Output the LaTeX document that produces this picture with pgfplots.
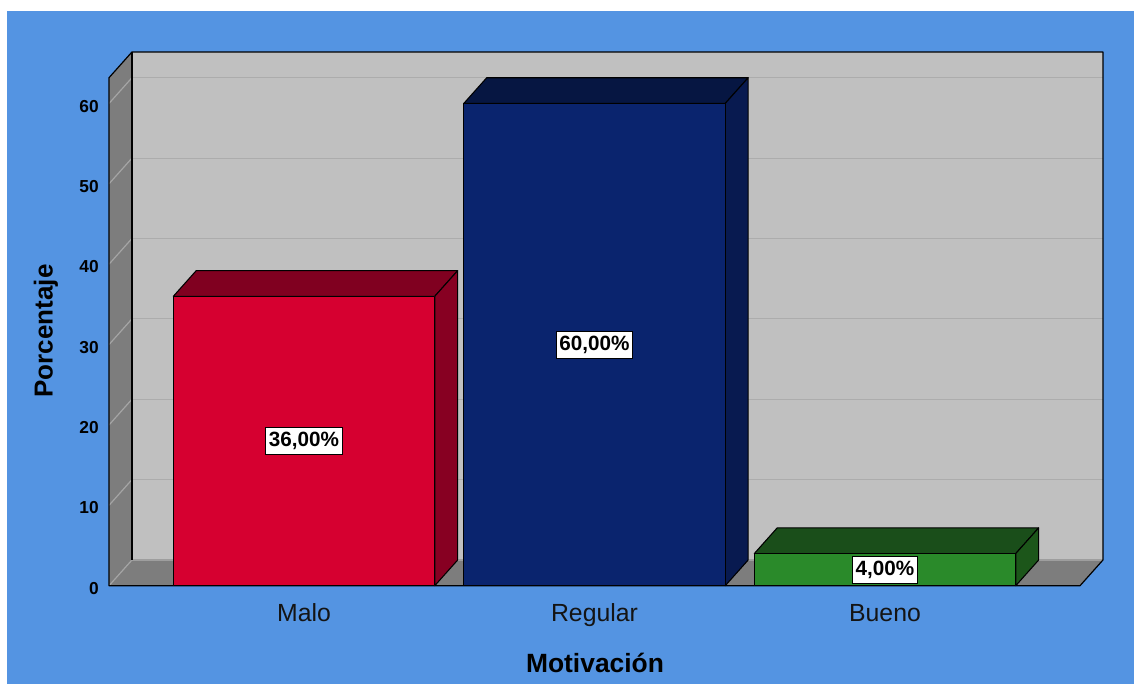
\documentclass[border=0pt]{standalone}
\usepackage{fontspec}
\setmainfont{Liberation Sans}
\usepackage{pgfplots}
\pgfplotsset{compat=1.18}

\definecolor{bgblue}{RGB}{84,148,226}
\definecolor{wallback}{RGB}{192,192,192}
\definecolor{wallside}{RGB}{125,125,125}
\definecolor{gridback}{RGB}{172,172,172}
\definecolor{gridside}{RGB}{165,165,165}
\definecolor{floorline}{RGB}{158,158,158}
\definecolor{redF}{RGB}{214,0,48}
\definecolor{redT}{RGB}{128,0,32}
\definecolor{redS}{RGB}{135,0,34}
\definecolor{blueF}{RGB}{10,36,110}
\definecolor{blueT}{RGB}{6,22,66}
\definecolor{blueS}{RGB}{8,26,80}
\definecolor{greenF}{RGB}{42,138,42}
\definecolor{greenT}{RGB}{26,78,26}
\definecolor{greenS}{RGB}{28,86,26}

\pgfplotsset{
  barface/.style={draw=black, line width=0.8pt, line join=round},
  valuelabel/.style={draw=none, mark=none, point meta=explicit,
    nodes near coords={\pgfmathprintnumber[assume math mode=true,fixed,fixed zerofill,precision=2,use comma]{\pgfplotspointmeta}\%},
    every node near coord/.append style={anchor=center, fill=white, draw=black,
      line width=0.7pt, inner xsep=2.5pt, inner ysep=3.5pt, text=black,
      font=\bfseries\fontsize{15.5}{18}\selectfont}},
}

% half bar width and depth offsets, in axis units
\newcommand\hw{0.45}
\newcommand\dx{0.079}
\newcommand\dy{3.2}

% one solid bar: centre, value, front / top / side colours
\newcommand\solidbar[5]{%
  \pgfmathsetmacro\xa{#1-\hw}%
  \pgfmathsetmacro\xb{#1+\hw}%
  \pgfmathsetmacro\xc{#1-\hw+\dx}%
  \pgfmathsetmacro\xd{#1+\hw+\dx}%
  \pgfmathsetmacro\yt{#2+\dy}%
  \pgfmathsetmacro\ym{#2/2}%
  \edef\drawfaces{%
    \noexpand\addplot[barface, fill=#4] coordinates {(\xa,#2) (\xb,#2) (\xd,\yt) (\xc,\yt)} -- cycle;
    \noexpand\addplot[barface, fill=#5] coordinates {(\xb,0) (\xd,\dy) (\xd,\yt) (\xb,#2)} -- cycle;
    \noexpand\addplot[barface, fill=#3] coordinates {(\xa,0) (\xb,0) (\xb,#2) (\xa,#2)} -- cycle;
    \noexpand\addplot[valuelabel] coordinates {(#1,\ym) [#2]};
  }%
  \drawfaces
}

\begin{document}
\begin{tikzpicture}
\useasboundingbox (0,0) rectangle (850.5pt,513pt);
\fill[white] (0,0) rectangle (850.5pt,513pt);
\fill[bgblue] (5.25pt,0) rectangle (850.5pt,504.75pt);
\begin{axis}[
  at={(81.75pt,73.7pt)}, anchor=south west,
  scale only axis, width=728.25pt, height=381pt,
  xmin=-0.6713, xmax=2.6713, ymin=0, ymax=63.2,
  clip=false,
  axis line style={draw=none},
  major tick length=0pt,
  xtick={0,1,2}, xticklabels={Malo,Regular,Bueno},
  ytick={0,10,20,30,40,50,60}, yticklabels={0,10,20,30,40,50,60},
  xticklabel style={anchor=base, inner sep=0pt, yshift=-26.5pt,
    text=black!92, font=\fontsize{18.6}{22}\selectfont},
  yticklabel style={anchor=east, inner sep=0pt, xshift=-7.5pt, yshift=-2pt,
    font=\bfseries\fontsize{13}{15}\selectfont},
]
% back wall, left wall and floor
\addplot[fill=wallback, draw=none] coordinates {(-0.5923,3.2) (2.7503,3.2) (2.7503,66.4) (-0.5923,66.4)} -- cycle;
\addplot[fill=wallside, draw=none] coordinates {(-0.6713,0) (-0.5923,3.2) (-0.5923,66.4) (-0.6713,63.2)} -- cycle;
\addplot[fill=wallside, draw=none] coordinates {(-0.6713,0) (2.6713,0) (2.7503,3.2) (-0.5923,3.2)} -- cycle;
\addplot[floorline, line width=1.2pt] coordinates {(-0.5923,3.2) (2.7503,3.2)};
% grid lines on the back wall
\addplot[gridback, line width=0.9pt] coordinates {(-0.5923,13.2) (2.7503,13.2)};
\addplot[gridback, line width=0.9pt] coordinates {(-0.5923,23.2) (2.7503,23.2)};
\addplot[gridback, line width=0.9pt] coordinates {(-0.5923,33.2) (2.7503,33.2)};
\addplot[gridback, line width=0.9pt] coordinates {(-0.5923,43.2) (2.7503,43.2)};
\addplot[gridback, line width=0.9pt] coordinates {(-0.5923,53.2) (2.7503,53.2)};
\addplot[gridback, line width=0.9pt] coordinates {(-0.5923,63.2) (2.7503,63.2)};
% grid lines on the left wall
\addplot[gridside, line width=0.9pt] coordinates {(-0.6713,0) (-0.5923,3.2)};
\addplot[gridside, line width=0.9pt] coordinates {(-0.6713,10) (-0.5923,13.2)};
\addplot[gridside, line width=0.9pt] coordinates {(-0.6713,20) (-0.5923,23.2)};
\addplot[gridside, line width=0.9pt] coordinates {(-0.6713,30) (-0.5923,33.2)};
\addplot[gridside, line width=0.9pt] coordinates {(-0.6713,40) (-0.5923,43.2)};
\addplot[gridside, line width=0.9pt] coordinates {(-0.6713,50) (-0.5923,53.2)};
\addplot[gridside, line width=0.9pt] coordinates {(-0.6713,60) (-0.5923,63.2)};
% outline of the box
\addplot[black, line width=0.9pt, line join=round] coordinates {(-0.6713,0) (-0.6713,63.2) (-0.5923,66.4) (2.7503,66.4) (2.7503,3.2) (2.6713,0)} -- cycle;
\addplot[black, line width=0.9pt] coordinates {(-0.5923,3.2) (-0.5923,66.4)};
% bars
\solidbar{0}{36}{redF}{redT}{redS}
\solidbar{1}{60}{blueF}{blueT}{blueS}
\solidbar{2}{4}{greenF}{greenT}{greenS}
\end{axis}
\node[anchor=base, font=\bfseries\fontsize{19.8}{24}\selectfont] at (446.25pt,8.8pt) {Motivación};
\node[anchor=base, rotate=90, font=\bfseries\fontsize{19.5}{24}\selectfont] at (39.4pt,264.75pt) {Porcentaje};
\end{tikzpicture}
\end{document}
